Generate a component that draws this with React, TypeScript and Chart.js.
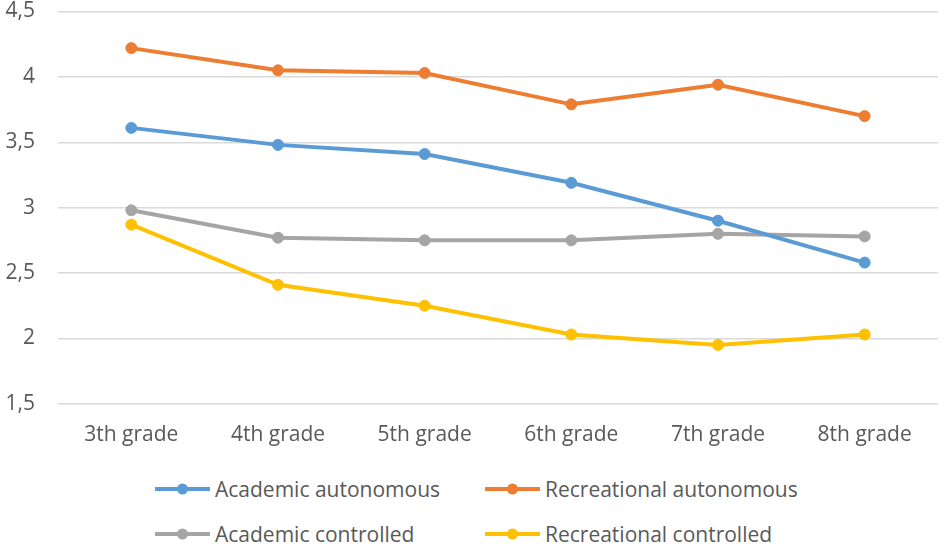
import { Chart, registerables } from "chart.js";
import { useEffect, useRef } from "react";

Chart.register(...registerables);

const grades = ["3th grade", "4th grade", "5th grade", "6th grade", "7th grade", "8th grade"];
const academicAutonomous = [3.61, 3.48, 3.41, 3.19, 2.9, 2.58];
const recreationalAutonomous = [4.22, 4.05, 4.03, 3.79, 3.94, 3.7];
const academicControlled = [2.98, 2.77, 2.75, 2.75, 2.8, 2.78];
const recreationalControlled = [2.87, 2.41, 2.25, 2.03, 1.95, 2.03];
const yTicks = [1.5, 2, 2.5, 3, 3.5, 4, 4.5];

const seriesNames = [
  "Academic autonomous",
  "Recreational autonomous",
  "Academic controlled",
  "Recreational controlled",
];
const seriesColors = ["#5B9BD5", "#ED7D31", "#A5A5A5", "#FFC000"];
const seriesValues = [academicAutonomous, recreationalAutonomous, academicControlled, recreationalControlled];

const FONT = "'Open Sans', sans-serif";
const TEXT = "#595959";

function LegendItem({ name, color }: { name: string; color: string }) {
  return (
    <div style={{ display: "flex", alignItems: "center", height: 24 }}>
      <svg width={55} height={14} style={{ display: "block" }}>
        <line x1={0} y1={7} x2={55} y2={7} stroke={color} strokeWidth={4} />
        <circle cx={27.5} cy={7} r={5.5} fill={color} />
      </svg>
      <span style={{ marginLeft: 5, fontFamily: FONT, fontSize: 21, color: TEXT, whiteSpace: "nowrap" }}>
        {name}
      </span>
    </div>
  );
}

export default function App() {
  const canvasRef = useRef<HTMLCanvasElement>(null);

  useEffect(() => {
    document.body.style.margin = "0";
    if (!canvasRef.current) return;
    const ctx = canvasRef.current.getContext("2d");
    if (!ctx) return;

    const chart = new Chart(ctx, {
      type: "line",
      data: {
        labels: grades,
        datasets: seriesValues.map((values, i) => ({
          label: seriesNames[i],
          data: values,
          borderColor: seriesColors[i],
          backgroundColor: seriesColors[i],
          borderWidth: 4,
          pointRadius: 5.5,
          pointBorderWidth: 1,
          pointBorderColor: seriesColors[i],
          pointBackgroundColor: seriesColors[i],
          tension: 0,
          fill: false,
        })),
      },
      options: {
        responsive: true,
        maintainAspectRatio: false,
        animation: false,
        layout: { padding: { left: 0, right: 12, top: 0, bottom: 0 } },
        plugins: {
          legend: { display: false },
          tooltip: { enabled: false },
        },
        scales: {
          x: {
            offset: true,
            grid: { display: false },
            border: { display: false },
            ticks: {
              padding: 11,
              color: TEXT,
              font: { family: FONT, size: 21 },
              maxRotation: 0,
            },
          },
          y: {
            min: 1.5,
            max: 4.5,
            afterBuildTicks: (scale) => {
              scale.ticks = yTicks.map((v) => ({ value: v }));
            },
            afterFit: (scale) => {
              scale.width = 58;
            },
            grid: { color: "#D9D9D9", lineWidth: 1.5, drawTicks: false },
            border: { display: false },
            ticks: {
              padding: 23,
              color: TEXT,
              font: { family: FONT, size: 21, lineHeight: 1 },
              callback: (v) => String(v).replace(".", ","),
            },
          },
        },
      },
    });

    return () => chart.destroy();
  }, []);

  return (
    <div style={{ position: "relative", width: 950, height: 550, background: "#fff", overflow: "hidden" }}>
      <div style={{ position: "absolute", left: 0, top: -22, width: 950, height: 481 }}>
        <canvas ref={canvasRef} />
      </div>
      <div style={{ position: "absolute", left: 155, top: 477 }}>
        <LegendItem name={seriesNames[0]} color={seriesColors[0]} />
      </div>
      <div style={{ position: "absolute", left: 485, top: 477 }}>
        <LegendItem name={seriesNames[1]} color={seriesColors[1]} />
      </div>
      <div style={{ position: "absolute", left: 155, top: 522 }}>
        <LegendItem name={seriesNames[2]} color={seriesColors[2]} />
      </div>
      <div style={{ position: "absolute", left: 485, top: 522 }}>
        <LegendItem name={seriesNames[3]} color={seriesColors[3]} />
      </div>
    </div>
  );
}
